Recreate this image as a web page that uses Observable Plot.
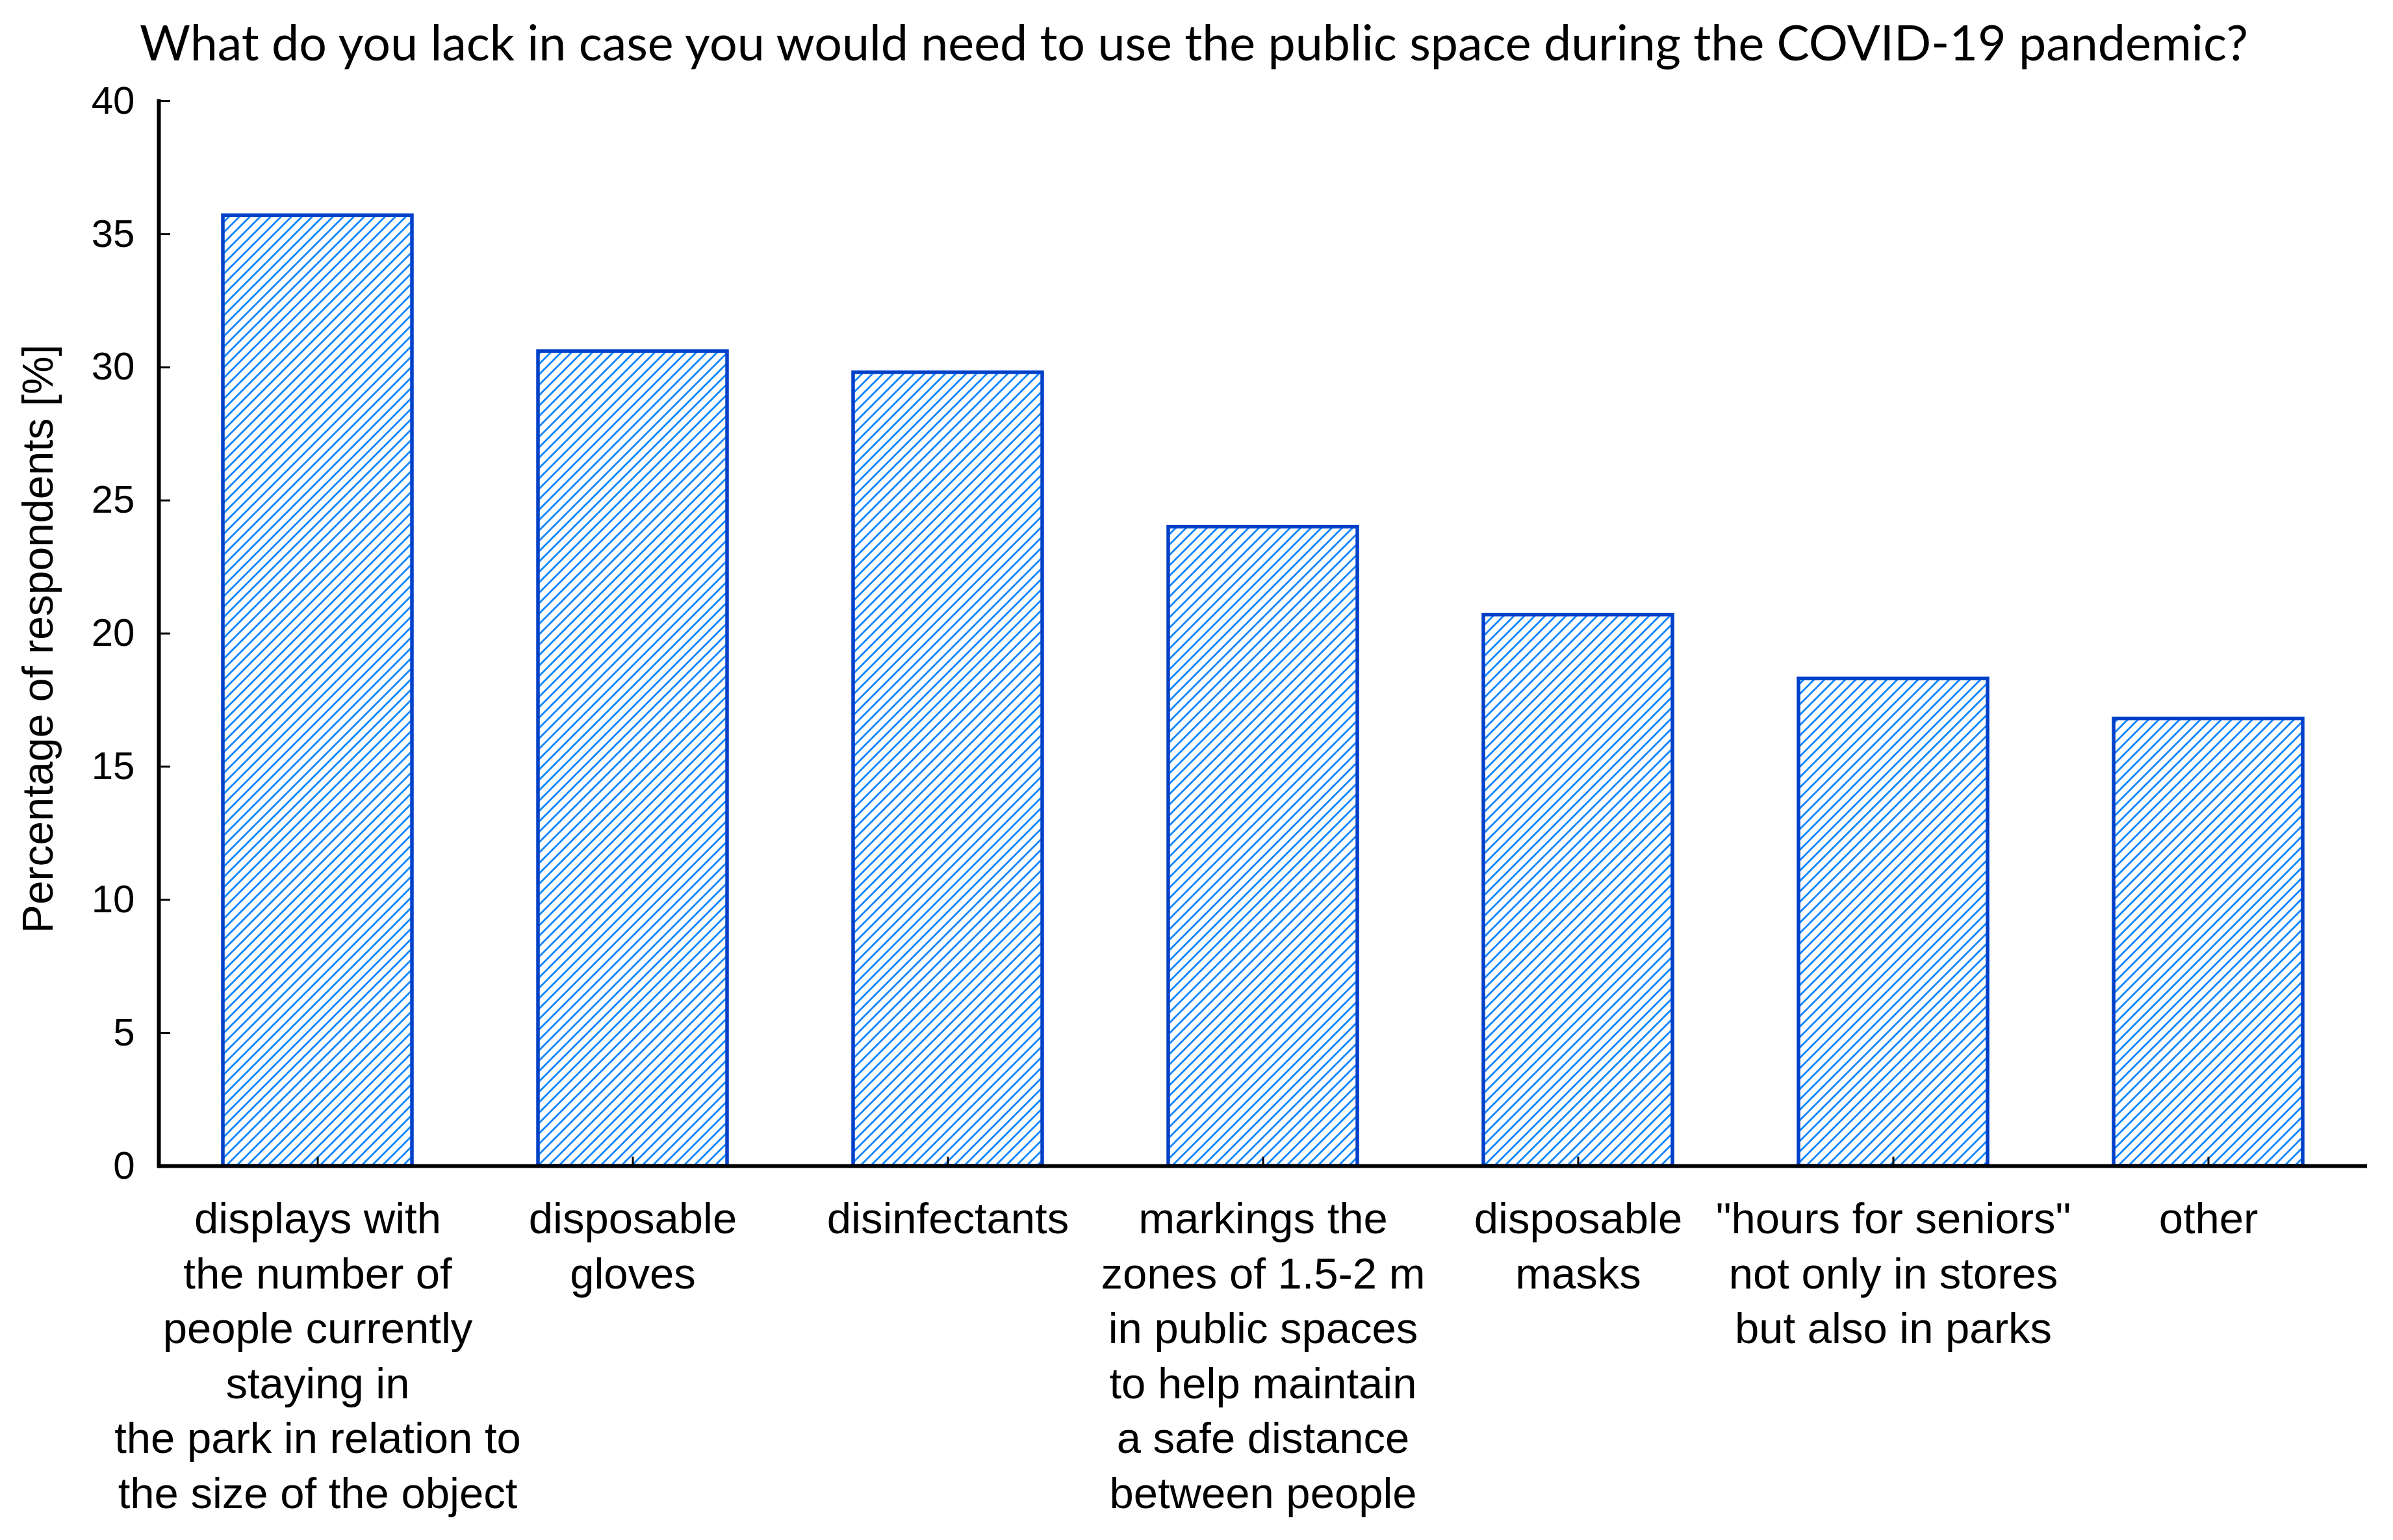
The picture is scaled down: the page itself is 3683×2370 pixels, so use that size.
<!DOCTYPE html>
<html><head><meta charset="utf-8">
<script src="https://cdn.jsdelivr.net/npm/d3@7"></script>
<script src="https://cdn.jsdelivr.net/npm/@observablehq/plot@0.6"></script>
<style>
html,body{margin:0;padding:0;background:#fff;}
#title{position:relative;width:3683px;height:110px;overflow:visible;}
#title span{position:absolute;left:215px;top:27px;font-family:Lato,"Open Sans",sans-serif;font-size:75px;line-height:75px;white-space:nowrap;color:#000;transform-origin:0 0;}
</style></head><body>
<div id="title"><span id="ttl">What do you lack in case you would need to use the public space during the COVID-19 pandemic?</span></div>
<div id="chart"></div>
<script>
const categories = [
  "displays with\nthe number of\npeople currently\nstaying in\nthe park in relation to\nthe size of the object",
  "disposable\ngloves",
  "disinfectants",
  "markings the\nzones of 1.5-2 m\nin public spaces\nto help maintain\na safe distance\nbetween people",
  "disposable\nmasks",
  "\"hours for seniors\"\nnot only in stores\nbut also in parks",
  "other"
];
const values = [35.7, 30.6, 29.8, 24.0, 20.7, 18.3, 16.8];
const yTicks = [0, 5, 10, 15, 20, 25, 30, 35, 40];
const yLabel = "Percentage of respondents [%]";

const data = categories.map((c, i) => ({cat: c, value: values[i]}));

const W = 3683, H = 2260, mL = 244, mR = 40, mT = 45, mB = 576;
const frameW = W - mL - mR, frameH = H - mT - mB;

const chart = Plot.plot({
  width: W, height: H,
  marginLeft: mL, marginRight: mR, marginTop: mT, marginBottom: mB,
  x: {domain: categories, paddingInner: 0.4, paddingOuter: 0.2, align: 0.5},
  y: {domain: [0, 40]},
  style: {fontFamily: "'Liberation Sans', Arial, sans-serif", background: "#fff", color: "#000"},
  marks: [
    Plot.barY(data, {x: "cat", y: "value", fill: "url(#hatch)", stroke: "#0040c8", strokeWidth: 5.5}),
    Plot.axisY({ticks: yTicks, tickSize: 0, tickPadding: 37, fontSize: 60, label: null}),
    Plot.tickY(yTicks, {y: d => d, insetRight: frameW - 18, stroke: "#000", strokeWidth: 3}),
    Plot.axisX({tickSize: 0, tickPadding: 44, fontSize: 67, lineHeight: 1.26, label: null}),
    Plot.tickX(categories, {x: d => d, insetTop: frameH - 14, stroke: "#000", strokeWidth: 3}),
    Plot.ruleY([0], {stroke: "#000", strokeWidth: 6}),
    Plot.frame({anchor: "left", stroke: "#000", strokeWidth: 6}),
    Plot.text([yLabel], {frameAnchor: "left", textAnchor: "middle", lineAnchor: "middle", rotate: -90, dx: -185, dy: 8, fontSize: 66, fill: "#000"})
  ]
});

const ns = "http://www.w3.org/2000/svg";
const svg = chart.tagName.toLowerCase() === "svg" ? chart : chart.querySelector("svg");
const defs = document.createElementNS(ns, "defs");
defs.innerHTML = `<pattern id="hatch" patternUnits="userSpaceOnUse" width="16" height="16">
  <rect width="16" height="16" fill="#fff"/>
  <path d="M-4,4 L4,-4 M0,16 L16,0 M12,20 L20,12" stroke="#0f84ff" stroke-width="2.8"/>
</pattern>`;
svg.insertBefore(defs, svg.firstChild);
document.getElementById("chart").appendChild(chart);

const ttl = document.getElementById("ttl");
const w = ttl.getBoundingClientRect().width;
ttl.style.transform = `scaleX(${3245 / w})`;
</script>
</body></html>
